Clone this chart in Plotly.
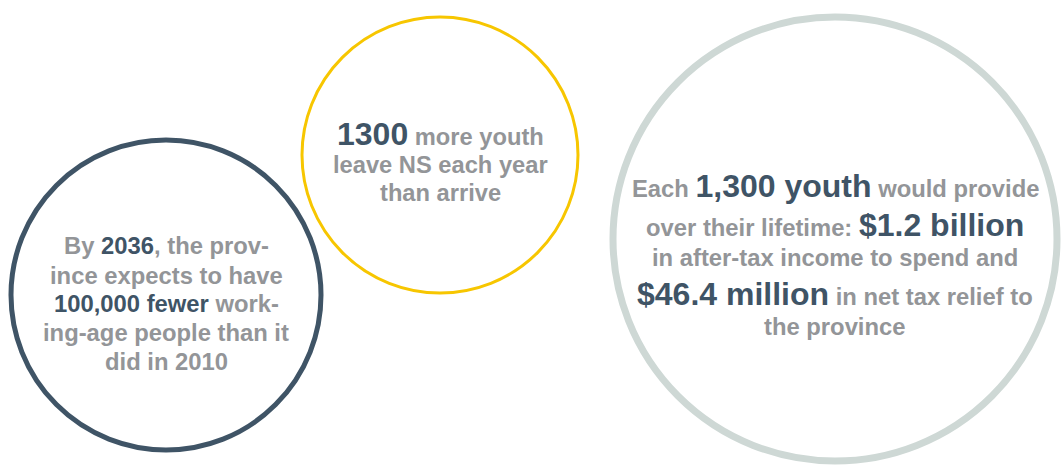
import plotly.graph_objects as go

W, H = 1061, 468
DARK = "#3f5466"
GRAY = "#939598"

# circles: centre x, centre y (pixels from top), radius, colour, line width
circle_names = ["workforce", "youth", "impact"]
circle_cx = [166, 440, 835]
circle_cy = [295, 155, 239]
circle_r = [155, 138, 222]
circle_colors = [DARK, "#f7c600", "#ced8d5"]
circle_widths = [5, 3, 7]

BIG = 32

def hl(t, size=None):
    s = f"font-size:{size}px;" if size else ""
    return f"<span style='color:{DARK};{s}'>{t}</span>"

# text lines per circle
text_lines = [
    [f"By {hl('2036')}, the prov-",
     "ince expects to have",
     f"{hl('100,000 fewer')} work-",
     "ing-age people than it",
     "did in 2010"],
    [f"{hl('1300', BIG)} more youth",
     "leave NS each year",
     "than arrive"],
    [f"Each {hl('1,300 youth', BIG)} would provide",
     f"over their lifetime: {hl('$1.2 billion', BIG)}",
     "in after-tax income to spend and",
     f"{hl('$46.4 million', BIG)} in net tax relief to",
     "the province"],
]
text_y = [
    [245, 275, 303, 332, 361],
    [134, 165, 193],
    [186, 225, 257, 294, 326],
]
text_sizes = [23.8, 23.7, 23.8]

fig = go.Figure()
fig.add_trace(go.Scatter(x=[0, W], y=[0, H], mode="markers",
                         marker=dict(opacity=0), hoverinfo="skip", showlegend=False))

for cx, cy, r, col, w in zip(circle_cx, circle_cy, circle_r, circle_colors, circle_widths):
    fig.add_shape(type="circle", xref="x", yref="y",
                  x0=cx - r, x1=cx + r, y0=cy - r, y1=cy + r,
                  line=dict(color=col, width=w), fillcolor="rgba(0,0,0,0)")

for cx, lines, ys, fs in zip(circle_cx, text_lines, text_y, text_sizes):
    for line, y in zip(lines, ys):
        fig.add_annotation(x=cx, y=y, xref="x", yref="y", text=f"<b>{line}</b>",
                           showarrow=False, xanchor="center", yanchor="middle",
                           font=dict(family="Liberation Sans, Arial", size=fs, color=GRAY))

fig.update_xaxes(range=[0, W], visible=False, fixedrange=True)
fig.update_yaxes(range=[H, 0], visible=False, fixedrange=True)
fig.update_layout(width=W, height=H, margin=dict(l=0, r=0, t=0, b=0),
                  paper_bgcolor="white", plot_bgcolor="white", showlegend=False)

fig.write_html("out.html", config={"displayModeBar": False},
               post_script="document.body.style.margin='0';document.body.style.overflow='hidden';")
